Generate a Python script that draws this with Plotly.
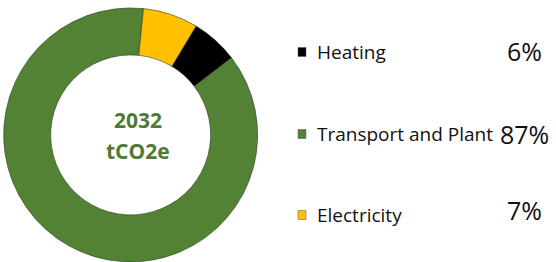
import plotly.graph_objects as go

categories = ["Heating", "Transport and Plant", "Electricity"]
values = [6, 87, 7]
pct_labels = ["6%", "87%", "7%"]
colors = ["#000000", "#548235", "#FFC000"]
center_lines = ["2032", "tCO2e"]

W, H = 556, 262

def px(x):
    return x / W

def py(y):
    return 1 - y / H

fig = go.Figure(go.Pie(
    labels=categories, values=values, hole=0.63, sort=False,
    direction="clockwise", rotation=31, textinfo="none", hoverinfo="label+percent",
    marker=dict(colors=colors, line=dict(color="#2a3a20", width=0.6)),
    domain=dict(x=[0.0066, 0.4634], y=[0.0, 0.97]), showlegend=False,
))

anns = []
shapes = []
ys = [52, 134, 215]
pct_ys = [51, 134, 210]
for i, cat in enumerate(categories):
    y = ys[i]
    shapes.append(dict(type="rect", xref="paper", yref="paper",
                       x0=px(298), x1=px(306), y0=py(y + 4.5), y1=py(y - 4.5),
                       fillcolor=colors[i], line=dict(color="#555555", width=0.5)))
    anns.append(dict(text=cat, x=px(315), y=py(y), xref="paper", yref="paper",
                     xanchor="left", yanchor="middle", showarrow=False,
                     font=dict(family="Open Sans", size=19, color="#111111")))
    anns.append(dict(text=pct_labels[i], x=px(524), y=py(pct_ys[i]), xref="paper", yref="paper",
                     xanchor="center", yanchor="middle", showarrow=False,
                     font=dict(family="Open Sans", size=25, color="#111111")))

anns.append(dict(text=center_lines[0], x=px(138), y=py(120), xref="paper", yref="paper",
                 xanchor="center", yanchor="middle", showarrow=False,
                 font=dict(family="Open Sans", size=21, color="#4f7a33", weight="bold")))
anns.append(dict(text=center_lines[1], x=px(138), y=py(151), xref="paper", yref="paper",
                 xanchor="center", yanchor="middle", showarrow=False,
                 font=dict(family="Open Sans", size=21, color="#4f7a33", weight="bold")))

fig.update_layout(width=W, height=H, margin=dict(l=0, r=0, t=0, b=0),
                  paper_bgcolor="white", plot_bgcolor="white",
                  annotations=anns, shapes=shapes)

fig.write_html("out.html", config={"displayModeBar": False},
               post_script="document.body.style.margin='0';document.body.style.overflow='hidden';")
